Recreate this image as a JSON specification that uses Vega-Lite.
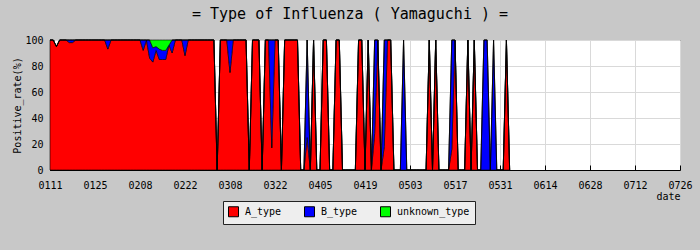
{
"$schema": "https://vega.github.io/schema/vega-lite/v6.json",
"width": 630, "height": 130,
"autosize": {"type": "none"},
"padding": {"left": 50, "top": 40, "right": 20, "bottom": 80},
"background": "#c8c8c8",
"title": {"text": "= Type of Influenza ( Yamaguchi ) =", "font": "DejaVu Sans Mono", "fontSize": 15, "fontWeight": "normal", "color": "black", "offset": 13, "dx": -15, "anchor": "middle"},
"config": {"view": {"fill": "white", "stroke": "black", "strokeWidth": 1}},
"data": {"values": [
{"date":"2019-01-11","A_type":100,"B_type":0,"unknown_type":0},
{"date":"2019-01-12","A_type":100,"B_type":0,"unknown_type":0},
{"date":"2019-01-13","A_type":95,"B_type":0,"unknown_type":0},
{"date":"2019-01-14","A_type":100,"B_type":0,"unknown_type":0},
{"date":"2019-01-15","A_type":100,"B_type":0,"unknown_type":0},
{"date":"2019-01-16","A_type":100,"B_type":0,"unknown_type":0},
{"date":"2019-01-17","A_type":98,"B_type":2,"unknown_type":0},
{"date":"2019-01-18","A_type":98,"B_type":2,"unknown_type":0},
{"date":"2019-01-19","A_type":100,"B_type":0,"unknown_type":0},
{"date":"2019-01-20","A_type":100,"B_type":0,"unknown_type":0},
{"date":"2019-01-21","A_type":100,"B_type":0,"unknown_type":0},
{"date":"2019-01-22","A_type":100,"B_type":0,"unknown_type":0},
{"date":"2019-01-23","A_type":100,"B_type":0,"unknown_type":0},
{"date":"2019-01-24","A_type":100,"B_type":0,"unknown_type":0},
{"date":"2019-01-25","A_type":100,"B_type":0,"unknown_type":0},
{"date":"2019-01-26","A_type":100,"B_type":0,"unknown_type":0},
{"date":"2019-01-27","A_type":100,"B_type":0,"unknown_type":0},
{"date":"2019-01-28","A_type":100,"B_type":0,"unknown_type":0},
{"date":"2019-01-29","A_type":93,"B_type":7,"unknown_type":0},
{"date":"2019-01-30","A_type":100,"B_type":0,"unknown_type":0},
{"date":"2019-01-31","A_type":100,"B_type":0,"unknown_type":0},
{"date":"2019-02-01","A_type":100,"B_type":0,"unknown_type":0},
{"date":"2019-02-02","A_type":100,"B_type":0,"unknown_type":0},
{"date":"2019-02-03","A_type":100,"B_type":0,"unknown_type":0},
{"date":"2019-02-04","A_type":100,"B_type":0,"unknown_type":0},
{"date":"2019-02-05","A_type":100,"B_type":0,"unknown_type":0},
{"date":"2019-02-06","A_type":100,"B_type":0,"unknown_type":0},
{"date":"2019-02-07","A_type":100,"B_type":0,"unknown_type":0},
{"date":"2019-02-08","A_type":100,"B_type":0,"unknown_type":0},
{"date":"2019-02-09","A_type":92,"B_type":8,"unknown_type":0},
{"date":"2019-02-10","A_type":100,"B_type":0,"unknown_type":0},
{"date":"2019-02-11","A_type":86,"B_type":14,"unknown_type":0},
{"date":"2019-02-12","A_type":83,"B_type":11,"unknown_type":6},
{"date":"2019-02-13","A_type":92,"B_type":3,"unknown_type":5},
{"date":"2019-02-14","A_type":85,"B_type":8,"unknown_type":7},
{"date":"2019-02-15","A_type":85,"B_type":7,"unknown_type":8},
{"date":"2019-02-16","A_type":85,"B_type":7,"unknown_type":8},
{"date":"2019-02-17","A_type":96,"B_type":0,"unknown_type":4},
{"date":"2019-02-18","A_type":90,"B_type":10,"unknown_type":0},
{"date":"2019-02-19","A_type":100,"B_type":0,"unknown_type":0},
{"date":"2019-02-20","A_type":100,"B_type":0,"unknown_type":0},
{"date":"2019-02-21","A_type":100,"B_type":0,"unknown_type":0},
{"date":"2019-02-22","A_type":88,"B_type":12,"unknown_type":0},
{"date":"2019-02-23","A_type":100,"B_type":0,"unknown_type":0},
{"date":"2019-02-24","A_type":100,"B_type":0,"unknown_type":0},
{"date":"2019-02-25","A_type":100,"B_type":0,"unknown_type":0},
{"date":"2019-02-26","A_type":100,"B_type":0,"unknown_type":0},
{"date":"2019-02-27","A_type":100,"B_type":0,"unknown_type":0},
{"date":"2019-02-28","A_type":100,"B_type":0,"unknown_type":0},
{"date":"2019-03-01","A_type":100,"B_type":0,"unknown_type":0},
{"date":"2019-03-02","A_type":100,"B_type":0,"unknown_type":0},
{"date":"2019-03-03","A_type":100,"B_type":0,"unknown_type":0},
{"date":"2019-03-04","A_type":0,"B_type":0,"unknown_type":0},
{"date":"2019-03-05","A_type":100,"B_type":0,"unknown_type":0},
{"date":"2019-03-06","A_type":100,"B_type":0,"unknown_type":0},
{"date":"2019-03-07","A_type":100,"B_type":0,"unknown_type":0},
{"date":"2019-03-08","A_type":75,"B_type":25,"unknown_type":0},
{"date":"2019-03-09","A_type":100,"B_type":0,"unknown_type":0},
{"date":"2019-03-10","A_type":100,"B_type":0,"unknown_type":0},
{"date":"2019-03-11","A_type":100,"B_type":0,"unknown_type":0},
{"date":"2019-03-12","A_type":100,"B_type":0,"unknown_type":0},
{"date":"2019-03-13","A_type":100,"B_type":0,"unknown_type":0},
{"date":"2019-03-14","A_type":0,"B_type":0,"unknown_type":0},
{"date":"2019-03-15","A_type":100,"B_type":0,"unknown_type":0},
{"date":"2019-03-16","A_type":100,"B_type":0,"unknown_type":0},
{"date":"2019-03-17","A_type":100,"B_type":0,"unknown_type":0},
{"date":"2019-03-18","A_type":0,"B_type":0,"unknown_type":0},
{"date":"2019-03-19","A_type":100,"B_type":0,"unknown_type":0},
{"date":"2019-03-20","A_type":100,"B_type":0,"unknown_type":0},
{"date":"2019-03-21","A_type":17,"B_type":83,"unknown_type":0},
{"date":"2019-03-22","A_type":100,"B_type":0,"unknown_type":0},
{"date":"2019-03-23","A_type":100,"B_type":0,"unknown_type":0},
{"date":"2019-03-24","A_type":0,"B_type":0,"unknown_type":0},
{"date":"2019-03-25","A_type":100,"B_type":0,"unknown_type":0},
{"date":"2019-03-26","A_type":100,"B_type":0,"unknown_type":0},
{"date":"2019-03-27","A_type":100,"B_type":0,"unknown_type":0},
{"date":"2019-03-28","A_type":100,"B_type":0,"unknown_type":0},
{"date":"2019-03-29","A_type":100,"B_type":0,"unknown_type":0},
{"date":"2019-03-30","A_type":0,"B_type":0,"unknown_type":0},
{"date":"2019-03-31","A_type":0,"B_type":0,"unknown_type":0},
{"date":"2019-04-01","A_type":25,"B_type":75,"unknown_type":0},
{"date":"2019-04-02","A_type":0,"B_type":0,"unknown_type":0},
{"date":"2019-04-03","A_type":100,"B_type":0,"unknown_type":0},
{"date":"2019-04-04","A_type":0,"B_type":0,"unknown_type":0},
{"date":"2019-04-05","A_type":0,"B_type":0,"unknown_type":0},
{"date":"2019-04-06","A_type":100,"B_type":0,"unknown_type":0},
{"date":"2019-04-07","A_type":100,"B_type":0,"unknown_type":0},
{"date":"2019-04-08","A_type":0,"B_type":0,"unknown_type":0},
{"date":"2019-04-09","A_type":0,"B_type":0,"unknown_type":0},
{"date":"2019-04-10","A_type":100,"B_type":0,"unknown_type":0},
{"date":"2019-04-11","A_type":100,"B_type":0,"unknown_type":0},
{"date":"2019-04-12","A_type":0,"B_type":0,"unknown_type":0},
{"date":"2019-04-13","A_type":0,"B_type":0,"unknown_type":0},
{"date":"2019-04-14","A_type":0,"B_type":0,"unknown_type":0},
{"date":"2019-04-15","A_type":0,"B_type":0,"unknown_type":0},
{"date":"2019-04-16","A_type":0,"B_type":0,"unknown_type":0},
{"date":"2019-04-17","A_type":100,"B_type":0,"unknown_type":0},
{"date":"2019-04-18","A_type":100,"B_type":0,"unknown_type":0},
{"date":"2019-04-19","A_type":0,"B_type":0,"unknown_type":0},
{"date":"2019-04-20","A_type":100,"B_type":0,"unknown_type":0},
{"date":"2019-04-21","A_type":0,"B_type":0,"unknown_type":0},
{"date":"2019-04-22","A_type":28,"B_type":72,"unknown_type":0},
{"date":"2019-04-23","A_type":100,"B_type":0,"unknown_type":0},
{"date":"2019-04-24","A_type":0,"B_type":0,"unknown_type":0},
{"date":"2019-04-25","A_type":18,"B_type":82,"unknown_type":0},
{"date":"2019-04-26","A_type":100,"B_type":0,"unknown_type":0},
{"date":"2019-04-27","A_type":100,"B_type":0,"unknown_type":0},
{"date":"2019-04-28","A_type":0,"B_type":0,"unknown_type":0},
{"date":"2019-04-29","A_type":0,"B_type":0,"unknown_type":0},
{"date":"2019-04-30","A_type":0,"B_type":0,"unknown_type":0},
{"date":"2019-05-01","A_type":0,"B_type":100,"unknown_type":0},
{"date":"2019-05-02","A_type":0,"B_type":0,"unknown_type":0},
{"date":"2019-05-03","A_type":0,"B_type":0,"unknown_type":0},
{"date":"2019-05-04","A_type":0,"B_type":0,"unknown_type":0},
{"date":"2019-05-05","A_type":0,"B_type":0,"unknown_type":0},
{"date":"2019-05-06","A_type":0,"B_type":0,"unknown_type":0},
{"date":"2019-05-07","A_type":0,"B_type":0,"unknown_type":0},
{"date":"2019-05-08","A_type":0,"B_type":0,"unknown_type":0},
{"date":"2019-05-09","A_type":100,"B_type":0,"unknown_type":0},
{"date":"2019-05-10","A_type":0,"B_type":0,"unknown_type":0},
{"date":"2019-05-11","A_type":100,"B_type":0,"unknown_type":0},
{"date":"2019-05-12","A_type":0,"B_type":0,"unknown_type":0},
{"date":"2019-05-13","A_type":0,"B_type":0,"unknown_type":0},
{"date":"2019-05-14","A_type":0,"B_type":0,"unknown_type":0},
{"date":"2019-05-15","A_type":0,"B_type":0,"unknown_type":0},
{"date":"2019-05-16","A_type":16,"B_type":84,"unknown_type":0},
{"date":"2019-05-17","A_type":100,"B_type":0,"unknown_type":0},
{"date":"2019-05-18","A_type":0,"B_type":0,"unknown_type":0},
{"date":"2019-05-19","A_type":0,"B_type":0,"unknown_type":0},
{"date":"2019-05-20","A_type":0,"B_type":0,"unknown_type":0},
{"date":"2019-05-21","A_type":100,"B_type":0,"unknown_type":0},
{"date":"2019-05-22","A_type":0,"B_type":0,"unknown_type":0},
{"date":"2019-05-23","A_type":100,"B_type":0,"unknown_type":0},
{"date":"2019-05-24","A_type":0,"B_type":0,"unknown_type":0},
{"date":"2019-05-25","A_type":0,"B_type":0,"unknown_type":0},
{"date":"2019-05-26","A_type":0,"B_type":100,"unknown_type":0},
{"date":"2019-05-27","A_type":0,"B_type":100,"unknown_type":0},
{"date":"2019-05-28","A_type":0,"B_type":0,"unknown_type":0},
{"date":"2019-05-29","A_type":0,"B_type":100,"unknown_type":0},
{"date":"2019-05-30","A_type":0,"B_type":0,"unknown_type":0},
{"date":"2019-05-31","A_type":0,"B_type":0,"unknown_type":0},
{"date":"2019-06-01","A_type":0,"B_type":0,"unknown_type":0},
{"date":"2019-06-02","A_type":100,"B_type":0,"unknown_type":0},
{"date":"2019-06-03","A_type":0,"B_type":0,"unknown_type":0}
]},
"transform": [{"fold": ["A_type", "B_type", "unknown_type"], "as": ["type", "rate"]}],
"mark": {"type": "area", "stroke": "black", "strokeWidth": 0.6, "interpolate": "linear"},
"encoding": {
  "x": {"field": "date", "type": "temporal",
    "scale": {"type": "utc", "domain": [{"year": 2019, "month": 1, "date": 11, "utc": true}, {"year": 2019, "month": 7, "date": 26, "utc": true}]},
    "axis": {"values": [
      {"year": 2019, "month": 1, "date": 11, "utc": true},
      {"year": 2019, "month": 1, "date": 25, "utc": true},
      {"year": 2019, "month": 2, "date": 8, "utc": true},
      {"year": 2019, "month": 2, "date": 22, "utc": true},
      {"year": 2019, "month": 3, "date": 8, "utc": true},
      {"year": 2019, "month": 3, "date": 22, "utc": true},
      {"year": 2019, "month": 4, "date": 5, "utc": true},
      {"year": 2019, "month": 4, "date": 19, "utc": true},
      {"year": 2019, "month": 5, "date": 3, "utc": true},
      {"year": 2019, "month": 5, "date": 17, "utc": true},
      {"year": 2019, "month": 5, "date": 31, "utc": true},
      {"year": 2019, "month": 6, "date": 14, "utc": true},
      {"year": 2019, "month": 6, "date": 28, "utc": true},
      {"year": 2019, "month": 7, "date": 12, "utc": true},
      {"year": 2019, "month": 7, "date": 26, "utc": true}],
      "labelExpr": "utcFormat(datum.value, '%m%d')",
      "title": "date", "titleFont": "DejaVu Sans Mono", "titleFontSize": 10, "titleFontWeight": "normal", "titleColor": "black",
      "titleAnchor": "end", "titleAlign": "right", "titlePadding": 1,
      "labelFont": "DejaVu Sans Mono", "labelFontSize": 10, "labelColor": "black", "labelPadding": 15, "labelFlush": false, "labelOverlap": false,
      "tickSize": -5, "tickColor": "black", "domainColor": "black",
      "grid": true, "gridColor": "#d9d9d9"}},
  "y": {"field": "rate", "type": "quantitative", "stack": "zero", "scale": {"domain": [0, 100]},
    "axis": {"values": [0, 10, 20, 30, 40, 50, 60, 70, 80, 90, 100],
      "labelExpr": "datum.value % 20 == 0 ? datum.label : ''",
      "title": "Positive_rate(%)", "titleFont": "DejaVu Sans Mono", "titleFontSize": 10, "titleFontWeight": "normal", "titleColor": "black", "titlePadding": 2,
      "labelFont": "DejaVu Sans Mono", "labelFontSize": 10, "labelColor": "black", "labelPadding": 11,
      "tickSize": -4, "tickColor": "black", "domainColor": "black",
      "grid": true, "gridColor": "#d9d9d9",
      "gridOpacity": {"condition": {"test": "datum.value % 20 == 0", "value": 1}, "value": 0}}},
  "color": {"field": "type", "type": "nominal",
    "scale": {"domain": ["A_type", "B_type", "unknown_type"], "range": ["#ff0000", "#0000ff", "#00ff00"]},
    "legend": {"title": null, "orient": "none", "legendX": 173, "legendY": 161, "direction": "horizontal",
      "fillColor": "#eeeeee", "strokeColor": "#222222", "padding": 5,
      "symbolType": "square", "symbolSize": 100, "symbolStrokeColor": "black", "symbolStrokeWidth": 1, "symbolOpacity": 1,
      "labelFont": "DejaVu Sans Mono", "labelFontSize": 10, "labelColor": "black", "labelOffset": 6, "columnPadding": 20}},
  "order": {"field": "type", "sort": "ascending"}
}
}
